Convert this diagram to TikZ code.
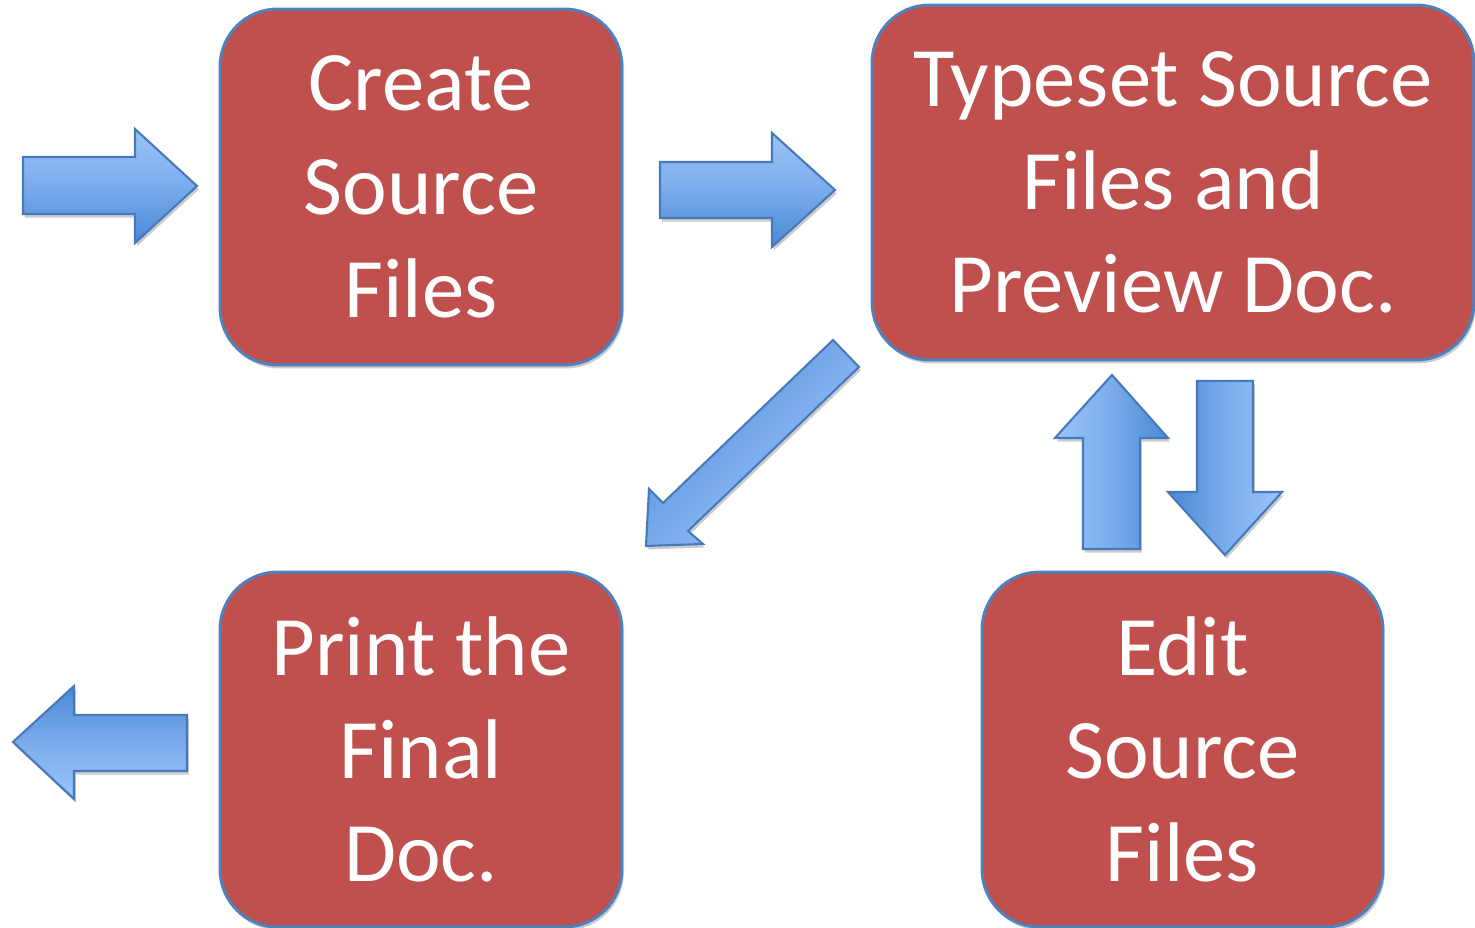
\documentclass[tikz,border=0pt]{standalone}
\usepackage{fontspec}
\setmainfont{Carlito}
\usetikzlibrary{shadows}

\definecolor{boxred}{RGB}{192,80,77}
\definecolor{boxblue}{RGB}{79,129,189}
\definecolor{arrowlight}{RGB}{156,196,250}
\definecolor{arrowmid}{RGB}{122,172,236}
\definecolor{arrowdark}{RGB}{74,136,214}
\definecolor{arrowline}{RGB}{72,122,186}

\tikzset{
  stagebox/.style={draw=boxblue, line width=1.7pt, fill=boxred,
    rounded corners=1.15cm, text=white, align=center, inner sep=0pt,
    font=\fontsize{48.2}{58.8}\selectfont,
    drop shadow={shadow xshift=1pt, shadow yshift=-2pt, opacity=0.2, fill=black}},
  blockarrow/.style={draw=arrowline, line width=1.2pt, line join=miter,
    drop shadow={shadow xshift=1pt, shadow yshift=-2pt, opacity=0.2, fill=black}}
}

\begin{document}
\begin{tikzpicture}[x=0.02cm, y=-0.02cm]
            \useasboundingbox (0,0) rectangle (1475,928);

            % Boxes for the steps
            \node[stagebox, minimum width=8.04cm, minimum height=7.12cm] (create) at (421,187)
                {Create\\Source\\Files};
            \node[stagebox, minimum width=12.04cm, minimum height=7.1cm] (typeset) at (1173,182.5)
                {Typeset Source\\Files and\\Preview Doc.};
            \node[stagebox, minimum width=8.04cm, minimum height=7.1cm] (print) at (421,749.5)
                {Print the\\Final\\Doc.};
            \node[stagebox, minimum width=8.02cm, minimum height=7.1cm] (edit) at (1182.5,749.5)
                {Edit\\Source\\Files};

            % Arrows into and out of the loop
            \draw[blockarrow, top color=arrowlight, bottom color=arrowdark, middle color=arrowmid]
                (23,157) -- (135,157) -- (135,129) -- (197,186) -- (135,243) -- (135,214) -- (23,214) -- cycle;
            \draw[blockarrow, top color=arrowlight, bottom color=arrowdark, middle color=arrowmid]
                (660,162) -- (772,162) -- (772,133) -- (835,190) -- (772,247) -- (772,218) -- (660,218) -- cycle;
            \draw[blockarrow, top color=arrowdark, bottom color=arrowlight, middle color=arrowmid, shading angle=45]
                (833,340) -- (859,367) -- (688,531) -- (703,544) -- (646,546) -- (649,489) -- (663,503) -- cycle;
            \draw[blockarrow, left color=arrowlight, right color=arrowdark, middle color=arrowmid]
                (1083,549) -- (1083,438) -- (1055,438) -- (1112,375) -- (1168,438) -- (1140,438) -- (1140,549) -- cycle;
            \draw[blockarrow, left color=arrowdark, right color=arrowlight, middle color=arrowmid]
                (1197,381) -- (1253,381) -- (1253,492) -- (1282,492) -- (1225,555) -- (1168,492) -- (1197,492) -- cycle;
            \draw[blockarrow, top color=arrowdark, bottom color=arrowlight, middle color=arrowmid]
                (187,715) -- (74,715) -- (74,686) -- (13,742) -- (74,799) -- (74,771) -- (187,771) -- cycle;
        \end{tikzpicture}
\end{document}
